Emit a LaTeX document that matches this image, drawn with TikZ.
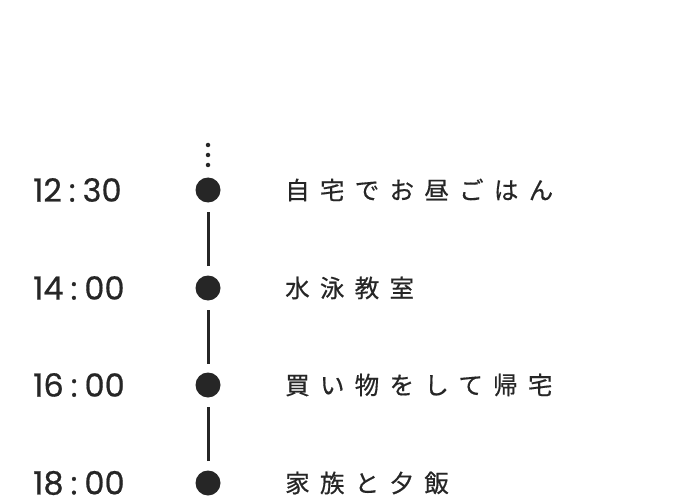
\documentclass[tikz,border=0pt]{standalone}
\usepackage{fontspec}
\setmainfont{Poppins}
\newfontfamily\cjk{Noto Sans CJK JP}
\definecolor{ink}{HTML}{262626}
\newcommand{\tcolon}{\hspace{7pt}:\hspace{7pt}}
\begin{document}
\begin{tikzpicture}[x=1pt,y=-1pt,
  timestyle/.style={anchor=west,inner sep=0pt,text=ink,font=\fontsize{32}{32}\selectfont\addfontfeature{FakeBold=0.6}},
  evstyle/.style={anchor=west,inner sep=0pt,text=ink,font=\cjk\fontsize{24.5}{24.5}\selectfont\addfontfeature{FakeBold=0.5}},
  dotstyle/.style={circle,fill=ink,minimum size=25pt,inner sep=0pt},
  linkstyle/.style={draw=ink,line width=3pt},
  smalldot/.style={circle,fill=ink,minimum size=4.5pt,inner sep=0pt}]
\useasboundingbox (0,0) rectangle (690,497);
\node[smalldot] (s1) at (208,145) {};
\node[smalldot] (s2) at (208,155) {};
\node[smalldot] (s3) at (208,165) {};
\foreach \i/\y/\a/\b/\e in {1/190/12/30/自宅でお昼ごはん,2/288/14/00/水泳教室,3/385/16/00/買い物をして帰宅,4/483/18/00/家族と夕飯}{
  \node[timestyle] (t\i) at (33,\y) {\a\tcolon\b};
  \node[dotstyle] (d\i) at (208,\y) {};
  \node[evstyle] (e\i) at (285,\y) {\addfontfeature{LetterSpace=42}\e};
}
\foreach \a/\b in {1/2,2/3,3/4}{
  \path (d\a) -- coordinate[pos=0.5] (m\a) (d\b);
  \draw[linkstyle] ([yshift=-27pt]m\a) -- ([yshift=27pt]m\a);
}
\end{tikzpicture}
\end{document}
